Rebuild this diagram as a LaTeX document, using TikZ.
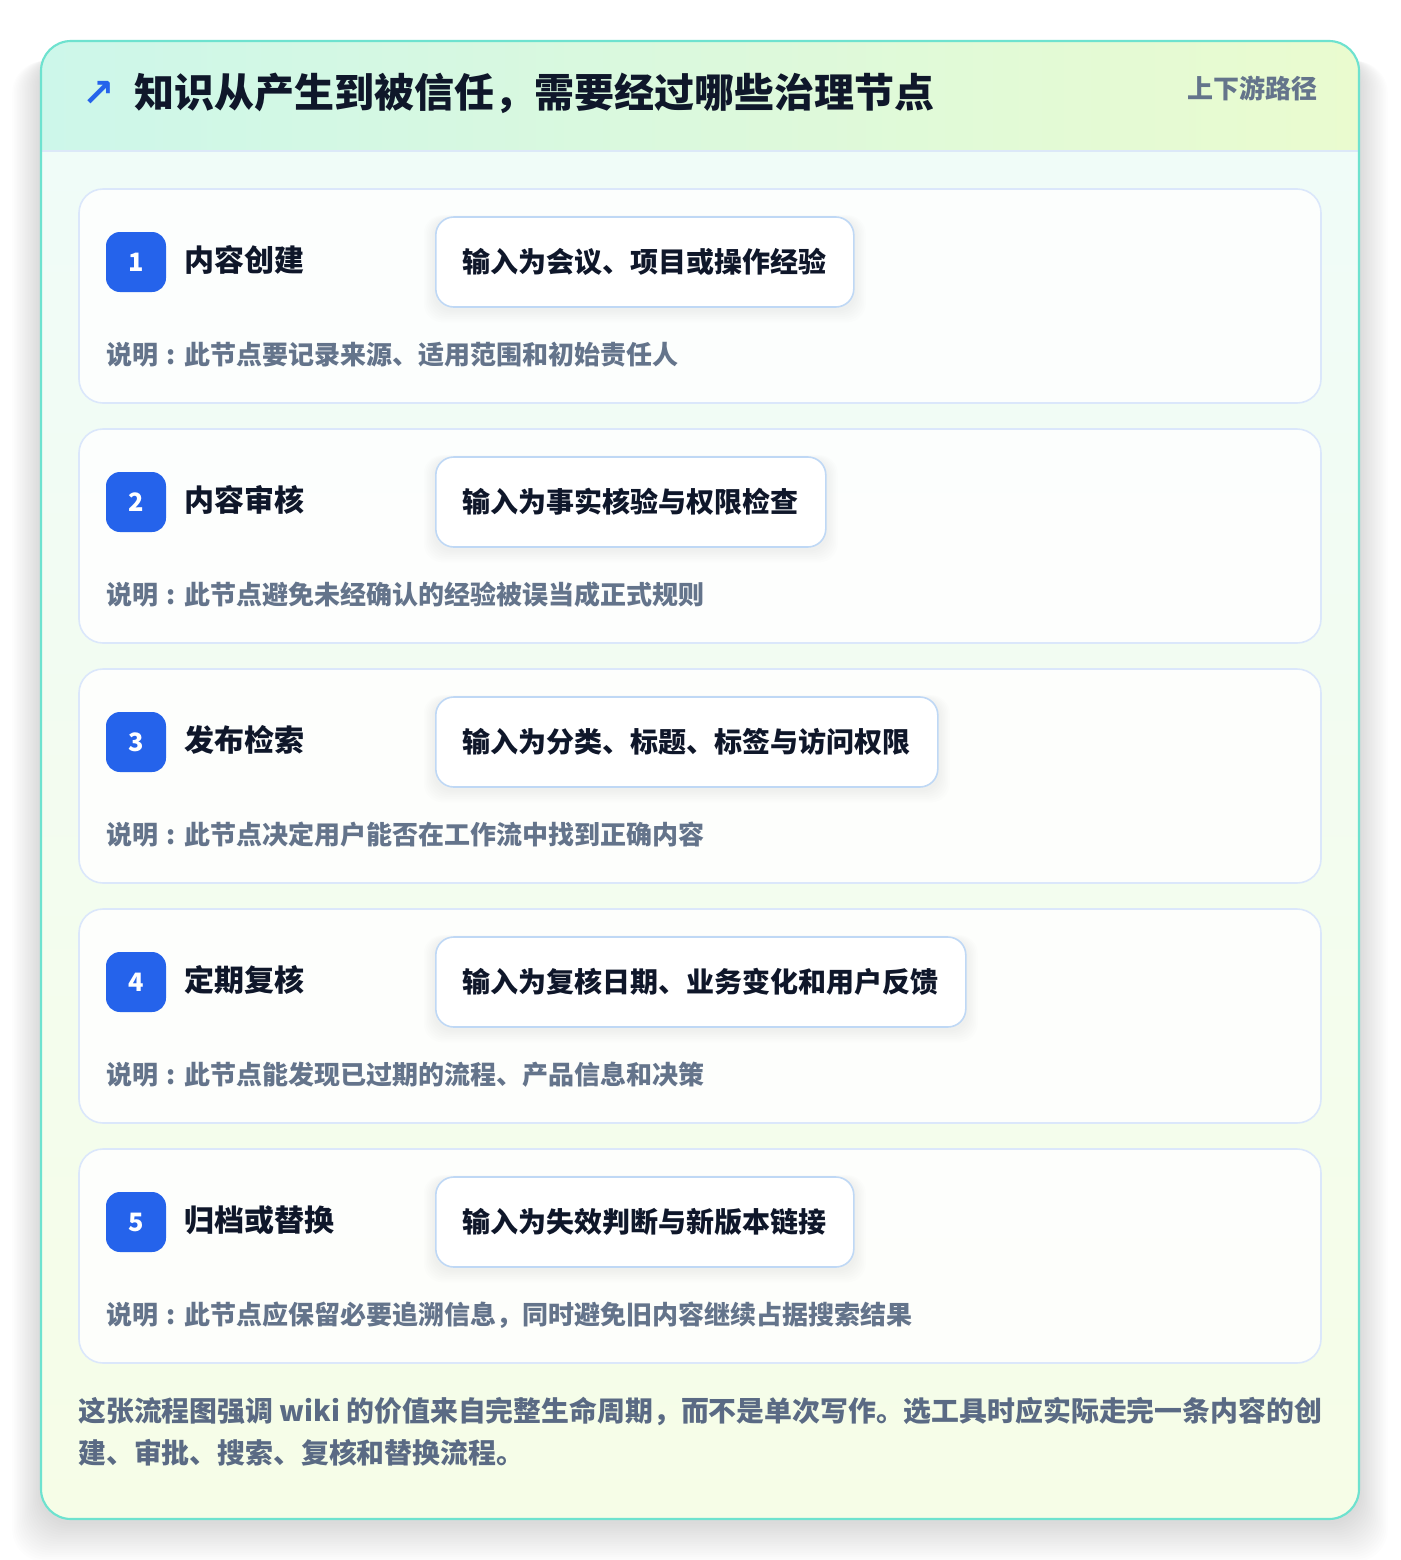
\documentclass[tikz,border=0pt]{standalone}
\usepackage{fontspec}
\setmainfont{Noto Sans CJK SC}
\newfontfamily\arrowfont{DejaVu Sans}
\usetikzlibrary{calc}
\definecolor{outerline}{HTML}{6EE2CF}
\definecolor{hdrL}{HTML}{CDF7EA}
\definecolor{hdrR}{HTML}{EAFBCF}
\definecolor{bodyT}{HTML}{F0FCF8}
\definecolor{bodyB}{HTML}{F6FDE7}
\definecolor{hdrline}{HTML}{DCE8F8}
\definecolor{cardline}{HTML}{DBE7FB}
\definecolor{boxline}{HTML}{BFD8F5}
\definecolor{badgeblue}{HTML}{2563EB}
\definecolor{ink}{HTML}{0F172A}
\definecolor{slate}{HTML}{64748B}
\definecolor{footink}{HTML}{5A6A84}
\pgfdeclarelayer{shad}
\pgfdeclarelayer{front}
\pgfsetlayers{main,shad,front}
\tikzset{
  card/.style={draw=cardline, line width=1.2pt, fill=white, fill opacity=0.85, text opacity=1,
    rounded corners=18pt, minimum width=931.5pt, minimum height=160.5pt, inner sep=0pt},
  badge/.style={fill=badgeblue, rounded corners=10.5pt, minimum width=45pt, minimum height=45pt,
    inner sep=0pt, text=white, font=\fontsize{19}{22}\selectfont\bfseries},
  steptitle/.style={anchor=west, inner sep=0pt, text=ink, font=\fontsize{22.5}{26}\selectfont\bfseries},
  inbox/.style={anchor=west, draw=boxline, line width=1.2pt, fill=white, rounded corners=13.5pt,
    inner xsep=20.25pt, inner ysep=0pt, minimum height=67.5pt, text=ink,
    font=\fontsize{21}{25}\selectfont\bfseries},
  desc/.style={anchor=west, inner sep=0pt, text=slate, font=\fontsize{19.5}{23}\selectfont\bfseries},
  foot/.style={anchor=west, inner sep=0pt, text=footink, font=\fontsize{20.9}{24}\selectfont\bfseries},
}
\newcommand{\cln}{\makebox[1em]{:}}
\begin{document}
\begin{tikzpicture}[x=0.75pt,y=-0.75pt]
\useasboundingbox[fill=white] (0,0) rectangle (1400,1560);
% outer soft shadow
\foreach \i in {1,...,18}{
  \fill[black, opacity=0.006, rounded corners=24pt]
    (41-\i*1.6,54+\i*0.4) rectangle (1359+\i*1.6,1522+\i*2.2);
}
% outer card
\begin{scope}
  \clip[rounded corners=22.5pt] (41,41) rectangle (1359,1519);
  \shade[left color=hdrL, right color=hdrR] (41,41) rectangle (1359,151);
  \shade[top color=bodyT, bottom color=bodyB] (41,151) rectangle (1359,1519);
  \draw[hdrline, line width=1.2pt] (41,151) -- (1359,151);
\end{scope}
\draw[outerline, line width=1.6pt, rounded corners=22.5pt] (41,41) rectangle (1359,1519);
% header
\node[inner sep=0pt, text=badgeblue, font=\fontsize{29}{32}\selectfont\arrowfont\bfseries] (arrow) at (99,94) {↗};
\node[anchor=west, inner sep=0pt, text=ink, font=\fontsize{30}{34}\selectfont\bfseries] (title) at (134,93)
  {知识从产生到被信任，需要经过哪些治理节点};
\node[anchor=east, inner sep=0pt, text=slate, font=\fontsize{19.5}{23}\selectfont\bfseries] (tag) at (1318,88)
  {上下游路径};
% cards
\foreach \num/\ttl/\inp/\dsc in {
  1/内容创建/输入为会议、项目或操作经验/此节点要记录来源、适用范围和初始责任人,
  2/内容审核/输入为事实核验与权限检查/此节点避免未经确认的经验被误当成正式规则,
  3/发布检索/输入为分类、标题、标签与访问权限/此节点决定用户能否在工作流中找到正确内容,
  4/定期复核/输入为复核日期、业务变化和用户反馈/此节点能发现已过期的流程、产品信息和决策,
  5/归档或替换/输入为失效判断与新版本链接/此节点应保留必要追溯信息，同时避免旧内容继续占据搜索结果}{
  \pgfmathsetmacro{\ctop}{189+(\num-1)*240}
  \node[card] (card\num) at (700,\ctop+107) {};
  \begin{pgfonlayer}{front}
    \node[inbox] (inp\num) at (435,\ctop+73) {\inp};
  \end{pgfonlayer}
  \begin{pgfonlayer}{shad}
    \foreach \j in {1,...,7}{
      \fill[black, opacity=0.008, rounded corners=14pt]
        ($(inp\num.north west)+(-\j*1.6,-\j*0.6+3)$) rectangle ($(inp\num.south east)+(\j*1.6,\j*1.8+2)$);
    }
  \end{pgfonlayer}
  \node[badge] (badge\num) at (136,\ctop+73) {\num};
  \node[steptitle] (ttl\num) at (184,\ctop+71) {\ttl};
  \node[desc] (dsc\num) at (106,\ctop+166) {说明\cln\dsc};
}
% footer
\node[foot] (foot1) at (78,1411) {这张流程图强调 wiki 的价值来自完整生命周期，而不是单次写作。选工具时应实际走完一条内容的创};
\node[foot] (foot2) at (78,1453) {建、审批、搜索、复核和替换流程。};
\end{tikzpicture}
\end{document}
